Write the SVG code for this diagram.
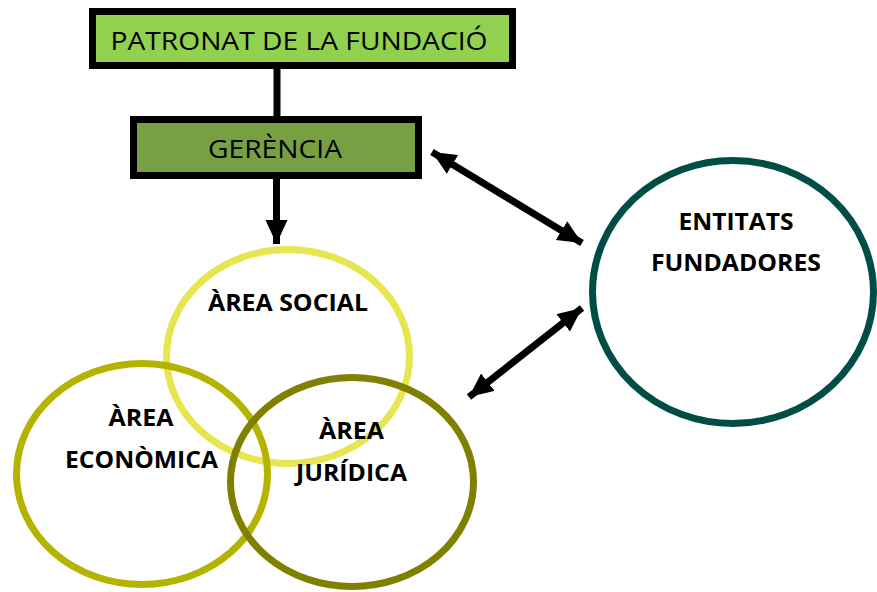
<svg xmlns="http://www.w3.org/2000/svg" width="877" height="592" viewBox="0 0 877 592">
<style>
.box{stroke:#000;stroke-width:7}
.t{font-family:"Open Sans","Liberation Sans",Arial,sans-serif;font-size:25px;fill:#000;text-anchor:middle}
.b{font-family:"Open Sans","Liberation Sans",Arial,sans-serif;font-size:22.5px;font-weight:bold;fill:#000;text-anchor:middle}
.ring{fill:none;stroke-width:7}
.conn{stroke:#000;stroke-width:7;fill:none}
</style>
<defs>
<marker id="ah" markerUnits="userSpaceOnUse" markerWidth="26" markerHeight="24" refX="24" refY="11" orient="auto-start-reverse">
<path d="M0,0 L24,11 L0,22 Z" fill="#000"/>
</marker>
</defs>
<g id="patronat">
<rect class="box" x="92.5" y="11.5" width="420" height="54" fill="#92D050"/>
<text class="t" x="299" y="50" textLength="377" lengthAdjust="spacingAndGlyphs">PATRONAT DE LA FUNDACIÓ</text>
</g>
<g id="gerencia">
<rect class="box" x="133.5" y="119.5" width="285" height="56" fill="#77A043"/>
<text class="t" x="275" y="158" textLength="134" lengthAdjust="spacingAndGlyphs">GERÈNCIA</text>
</g>
<g id="area-social">
<ellipse class="ring" cx="288" cy="356.5" rx="121.5" ry="107" stroke="#E6E650"/>
</g>
<g id="area-economica">
<ellipse class="ring" cx="142" cy="474" rx="125.5" ry="110.5" stroke="#B4B400"/>
</g>
<g id="area-juridica">
<ellipse class="ring" cx="352" cy="482" rx="121.5" ry="104.5" stroke="#808000"/>
</g>
<g id="entitats">
<ellipse class="ring" cx="733" cy="292" rx="140.5" ry="131.5" stroke="#004D45"/>
<text class="b" x="736" y="230" textLength="115" lengthAdjust="spacingAndGlyphs">ENTITATS</text>
<text class="b" x="736" y="271" textLength="170" lengthAdjust="spacingAndGlyphs">FUNDADORES</text>
</g>
<g id="labels">
<text class="b" x="288" y="311" textLength="160" lengthAdjust="spacingAndGlyphs">ÀREA SOCIAL</text>
<text class="b" x="141" y="426" textLength="65" lengthAdjust="spacingAndGlyphs">ÀREA</text>
<text class="b" x="141.5" y="468" textLength="153" lengthAdjust="spacingAndGlyphs">ECONÒMICA</text>
<text class="b" x="351.5" y="439" textLength="65" lengthAdjust="spacingAndGlyphs">ÀREA</text>
<text class="b" x="351.5" y="481" textLength="111" lengthAdjust="spacingAndGlyphs">JURÍDICA</text>
</g>
<g id="connectors">
<line class="conn" x1="277" y1="65" x2="277" y2="120"/>
<line class="conn" x1="276.5" y1="176" x2="276.5" y2="244" marker-end="url(#ah)"/>
<line class="conn" x1="432" y1="152" x2="582" y2="243" marker-start="url(#ah)" marker-end="url(#ah)"/>
<line class="conn" x1="469" y1="397" x2="582" y2="308" marker-start="url(#ah)" marker-end="url(#ah)"/>
</g>
</svg>
